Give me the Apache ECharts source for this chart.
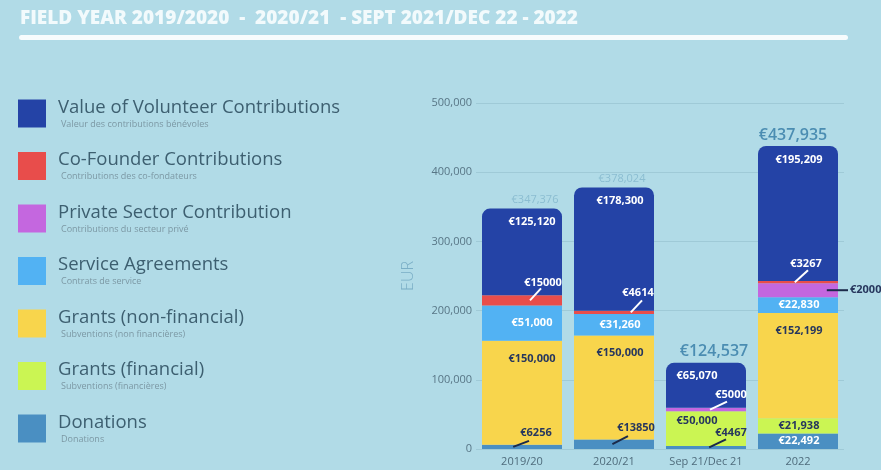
<!DOCTYPE html>
<html>
<head>
<meta charset="utf-8">
<script src="https://cdn.jsdelivr.net/npm/echarts@6/dist/echarts.min.js"></script>
<style>
  html, body { margin: 0; padding: 0; background: #b1dbe7; }
  #chart { width: 881px; height: 470px; }
</style>
</head>
<body>
<div id="chart"></div>
<script>
// categories + stacked values (bottom -> top)
var categories = ['2019/20', '2020/21', 'Sep 21/Dec 21', '2022'];
var donations = [6256, 13850, 4467, 22492];
var grantsFin = [0, 0, 50000, 21938];
var grantsNonFin = [150000, 150000, 0, 152199];
var serviceAgreements = [51000, 31260, 0, 22830];
var privateSector = [0, 0, 5000, 20000];
var coFounder = [15000, 4614, 0, 3267];
var volunteer = [125120, 178300, 65070, 195209];
var yMax = 500000, yStep = 100000;

var dark = '#27375e';
var fontFam = '"Open Sans", sans-serif';
var barW = 80;
// labels in the original sit a little off-centre per column
var labelShift = [10, 6, -9, 1];
var totalShift = [13, 8, 8, -5];

// small segments get their label pulled out with a guide line
// [label dx, label dy, text colour, line start (fraction of bar width), line end dx, line end dy (from label anchor), align]
var callouts = {
  'Donations': { 0: [14, -14, dark, 0.39, -7, 8], 1: [22, -16, dark, 0.48, -8, 8], 2: [25, -15, dark, 0.54, -5, 7] },
  'Private Sector Contribution': { 2: [25, -15, '#fff', 0.55, -4, 7], 3: [52, 0, dark, 0.86, -2, 0, 'left'] },
  'Co-Founder Contributions': { 0: [21, -18, '#fff', 0.6, -2, 6], 1: [24, -20, '#fff', 0.71, 4, 8], 3: [8, -18, '#fff', 0.46, 2, 6] }
};

var defs = [
  { name: 'Donations', sub: 'Donations', data: donations, color: '#4a8fc2', pos: 'inside', txt: '#fff' },
  { name: 'Grants (financial)', sub: 'Subventions (financières)', data: grantsFin, color: '#cbf553', pos: 'inside', txt: dark, topAt: [2] },
  { name: 'Grants (non-financial)', sub: 'Subventions (non financières)', data: grantsNonFin, color: '#f8d54c', pos: 'insideTop', dist: 12, txt: dark },
  { name: 'Service Agreements', sub: 'Contrats de service', data: serviceAgreements, color: '#52b2f3', pos: 'inside', txt: '#fff' },
  { name: 'Private Sector Contribution', sub: 'Contributions du secteur privé', data: privateSector, color: '#c467df', pos: 'inside', txt: '#fff' },
  { name: 'Co-Founder Contributions', sub: 'Contributions des co-fondateurs', data: coFounder, color: '#e84d4b', pos: 'inside', txt: '#fff' },
  { name: 'Value of Volunteer Contributions', sub: 'Valeur des contributions bénévoles', data: volunteer, color: '#2443a6', pos: 'insideTop', dist: 8, txt: '#fff' }
];
var subs = {};
defs.forEach(function (d) { subs[d.name] = d.sub; });

var totals = categories.map(function (c, i) {
  return defs.reduce(function (s, d) { return s + d.data[i]; }, 0);
});

function euro(v, plain) {
  return '€' + (plain ? String(v) : v.toLocaleString('en-US'));
}

var series = defs.map(function (d, si) {
  var co = callouts[d.name] || {};
  return {
    name: d.name,
    type: 'bar',
    stack: 'all',
    barWidth: barW,
    itemStyle: { color: d.color, borderRadius: si === defs.length - 1 ? [8, 8, 0, 0] : 0 },
    label: {
      show: true,
      position: d.pos,
      distance: d.dist || 5,
      color: d.txt,
      fontFamily: fontFam,
      fontWeight: 'bold',
      fontSize: 11,
      formatter: function (p) {
        if (!p.value || co[p.dataIndex]) return '';
        return euro(p.value);
      }
    },
    data: d.data.map(function (v, i) {
      var lab = { offset: [labelShift[i], 0] };
      if (d.topAt && d.topAt.indexOf(i) >= 0) { lab.position = 'insideTop'; lab.distance = 4; }
      return { value: v, label: lab };
    })
  };
});

// callout items: [category index, stack base, value] + settings
var calloutItems = [];
defs.forEach(function (d, si) {
  var co = callouts[d.name];
  if (!co) return;
  Object.keys(co).forEach(function (k) {
    var i = +k, base = 0;
    for (var j = 0; j < si; j++) base += defs[j].data[i];
    calloutItems.push({ value: [i, base, d.data[i]], cfg: co[k] });
  });
});

series.push({
  name: 'callouts',
  type: 'custom',
  z: 5,
  clip: false,
  silent: true,
  data: calloutItems.map(function (c) { return c.value; }),
  renderItem: function (params, api) {
    var cfg = calloutItems[params.dataIndex].cfg;
    var i = api.value(0), base = api.value(1), v = api.value(2);
    var p0 = api.coord([i, base]), p1 = api.coord([i, base + v]);
    var cx = p0[0], midY = (p0[1] + p1[1]) / 2;
    var lx = cx + cfg[0], ly = midY + cfg[1];
    var lineCol = cfg[2] === dark ? '#1b2a4a' : '#fff';
    return {
      type: 'group',
      children: [{
        type: 'line',
        shape: { x1: cx - barW / 2 + barW * cfg[3], y1: midY, x2: lx + cfg[4], y2: ly + cfg[5] },
        style: { stroke: lineCol, lineWidth: 2 }
      }, {
        type: 'text',
        style: {
          text: euro(v, true), x: lx, y: ly,
          align: cfg[6] || 'center', verticalAlign: 'middle',
          fill: cfg[2], font: 'bold 11px ' + fontFam
        }
      }]
    };
  }
});

// totals above each stack
series.push({
  name: 'Total',
  type: 'bar',
  stack: 'all',
  barWidth: barW,
  itemStyle: { color: 'transparent' },
  label: {
    show: true,
    position: 'top',
    distance: 3,
    fontFamily: fontFam,
    formatter: function (p) { return euro(totals[p.dataIndex]); }
  },
  data: totals.map(function (t, i) {
    var big = i >= 2;
    return {
      value: 0,
      label: big
        ? { fontSize: 16, fontWeight: 600, color: '#4b8db2', offset: [totalShift[i], 0] }
        : { fontSize: 11, color: '#8bbdd1', offset: [totalShift[i], 0] }
    };
  })
});

var chart = echarts.init(document.getElementById('chart'));
chart.setOption({
  backgroundColor: '#b1dbe7',
  animation: false,
  title: {
    text: 'FIELD YEAR 2019/2020  -  2020/21  - SEPT 2021/DEC 22 - 2022',
    left: 15, top: 4,
    textStyle: { color: '#f2fafc', fontSize: 19, fontWeight: 800, fontFamily: fontFam }
  },
  graphic: [{
    type: 'rect', left: 19, top: 35,
    shape: { width: 829, height: 5, r: 2.5 },
    style: { fill: '#f7fcfd' }
  }],
  legend: {
    orient: 'vertical',
    left: 13, top: 93,
    itemWidth: 28, itemHeight: 28,
    itemGap: 22,
    icon: 'rect',
    selectedMode: false,
    data: defs.map(function (d) { return d.name; }).reverse(),
    formatter: function (name) {
      return '{t|' + name + '}\n{s|' + subs[name] + '}';
    },
    textStyle: {
      rich: {
        t: { fontSize: 18.5, color: '#3d5f70', fontFamily: fontFam, lineHeight: 21, padding: [0, 0, 0, 7] },
        s: { fontSize: 9, color: '#7c98a4', fontFamily: fontFam, lineHeight: 12, padding: [0, 0, 0, 10] }
      }
    }
  },
  grid: { left: 476, right: 37, top: 103, bottom: 21 },
  xAxis: {
    type: 'category',
    data: categories,
    axisLine: { show: false },
    axisTick: { show: false },
    axisLabel: { color: '#4f6c7c', fontSize: 11, fontFamily: fontFam, margin: 7, interval: 0 }
  },
  yAxis: {
    type: 'value',
    min: 0, max: yMax, interval: yStep,
    name: 'EUR',
    nameLocation: 'middle',
    nameGap: 60,
    nameRotate: 90,
    nameTextStyle: { color: '#7aaec6', fontSize: 16, fontFamily: fontFam, fontWeight: 300 },
    axisLabel: {
      color: '#587686', fontSize: 11, fontFamily: fontFam, margin: 4,
      formatter: function (v) { return v.toLocaleString('en-US'); }
    },
    splitLine: { lineStyle: { color: '#9fcad7', width: 1 } }
  },
  series: series
});
</script>
</body>
</html>
